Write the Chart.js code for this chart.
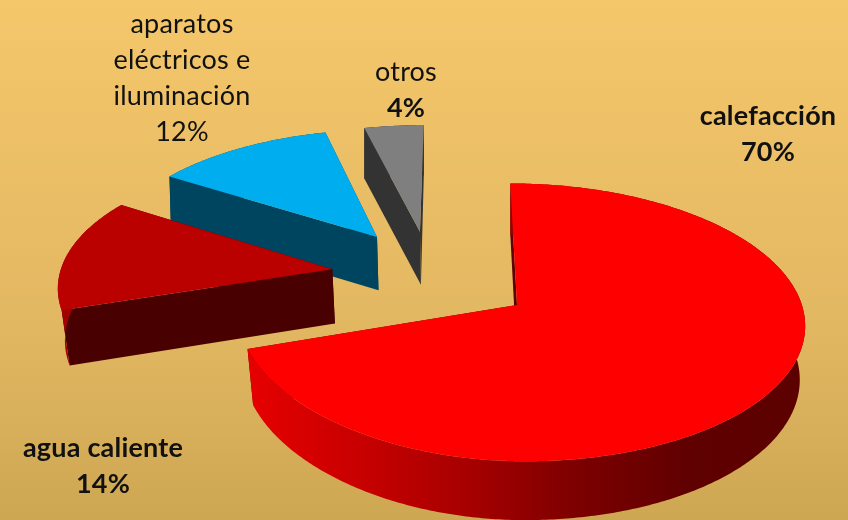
<!DOCTYPE html>
<html lang="es">
<head>
    <meta charset="UTF-8">
    <title>Consumo de energía en el hogar</title>
    <style>
        html, body { margin: 0; padding: 0; }
        body {
            width: 848px;
            height: 520px;
            overflow: hidden;
            background: linear-gradient(to bottom, #f5c76b 0%, #e3b862 60%, #cea753 100%);
        }
        canvas { display: block; }
    </style>
    <script src="https://cdn.jsdelivr.net/npm/chart.js"></script>
</head>
<body>
    <canvas id="pie" width="848" height="520"></canvas>

    <script>
        // Data
        const categories = ['calefacción', 'agua caliente', 'aparatos eléctricos e iluminación', 'otros'];
        const shares = [70, 14, 12, 4];

        // Slice colours: top face, cut face, rim
        const topColors = ['#ff0000', '#bb0000', '#00aeef', '#7f7f7f'];
        const cutColors = ['#600000', '#480000', '#004560', '#333333'];
        const rimColors = [null, '#a00000', '#004560', '#333333'];

        // Explosion of each slice on the ground plane, in radii
        const explode = [[0, 0], [-0.663, -0.27], [-0.51, -0.53], [-0.35, -0.575]];
        // Lower left of a slice is drawn a bit tighter
        const squeeze = [0.042, 0.028, 0, 0];

        // Label placement
        const labelLines = [['calefacción'], ['agua caliente'], ['aparatos', 'eléctricos e', 'iluminación'], ['otros']];
        const labelBox = [
            { x: 768, y: 125, bold: true, boldPct: true },
            { x: 103, y: 457, bold: true, boldPct: true },
            { x: 182, y: 33, bold: false, boldPct: false },
            { x: 406, y: 81, bold: false, boldPct: true }
        ];

        // Projection
        const spread = 1.325;     // screen px per radius, relative to the chart's own radius
        const flatten = 0.48;     // tilt of the ground plane
        const persp = 0.125;      // near side looks bigger
        const shear = 0.055;      // picture leans a little
        const depth = 55;         // height of the pie

        function project(el, X, Y, low) {
            const s = el.outerRadius * spread;
            const d = 1 - persp * Y;
            let x = X * s / d;
            let y = Y * flatten * s / d;
            x += shear * y;
            if (low) {
                y += depth / Math.sqrt(d);
                x *= 1 - Math.max(0, 0.017 + 0.012 * Y);
            }
            return [el.x + x, el.y + y];
        }

        function tracePoly(ctx, pts) {
            ctx.beginPath();
            pts.forEach((p, i) => i ? ctx.lineTo(p[0], p[1]) : ctx.moveTo(p[0], p[1]));
            ctx.closePath();
        }

        function drawSlice(ctx, el, i) {
            const [ox, oy] = explode[i];
            const steps = Math.ceil((el.endAngle - el.startAngle) * 90);
            const upper = [], lower = [];
            for (let n = 0; n <= steps; n++) {
                const a = el.startAngle + (el.endAngle - el.startAngle) * n / steps;
                let cx = Math.cos(a);
                const cy = Math.sin(a);
                if (cx < 0) cx *= 1 - squeeze[i] * Math.max(0, cy + 0.53);
                upper.push(project(el, ox + cx, oy + cy, false));
                lower.push(project(el, ox + cx, oy + cy, true));
            }
            const hub = project(el, ox, oy, false);
            const hubLow = project(el, ox, oy, true);

            // cut faces
            ctx.fillStyle = cutColors[i];
            tracePoly(ctx, [hub, upper[0], lower[0], hubLow]);
            ctx.fill();
            tracePoly(ctx, [hub, upper[steps], lower[steps], hubLow]);
            ctx.fill();

            // rim
            let rim = rimColors[i];
            if (!rim) {
                rim = ctx.createLinearGradient(250, 0, 800, 0);
                rim.addColorStop(0, '#e60000');
                rim.addColorStop(0.2, '#c80000');
                rim.addColorStop(0.4, '#a60000');
                rim.addColorStop(0.6, '#7c0000');
                rim.addColorStop(0.8, '#600000');
                rim.addColorStop(1, '#5c0000');
            }
            ctx.fillStyle = rim;
            tracePoly(ctx, upper.concat(lower.slice().reverse()));
            ctx.fill();

            // top
            ctx.fillStyle = topColors[i];
            tracePoly(ctx, [hub].concat(upper));
            ctx.fill();
        }

        function drawLabels(ctx) {
            ctx.fillStyle = '#111111';
            ctx.textAlign = 'center';
            ctx.textBaseline = 'alphabetic';
            ctx.letterSpacing = '0.2px';
            labelLines.forEach((lines, i) => {
                const box = labelBox[i];
                ctx.font = (box.bold ? 'bold ' : '') + '27px Lato';
                lines.forEach((line, n) => ctx.fillText(line, box.x, box.y + n * 36));
                ctx.font = (box.boldPct ? 'bold ' : '') + '27px Lato';
                ctx.fillText(shares[i] + '%', box.x, box.y + lines.length * 36);
            });
        }

        const pie3d = {
            id: 'pie3d',
            beforeDatasetDraw(chart, args) {
                const ctx = chart.ctx;
                const arcs = chart.getDatasetMeta(args.index).data;
                ctx.save();
                for (let i = arcs.length - 1; i >= 0; i--) {
                    drawSlice(ctx, arcs[i], i);
                }
                drawLabels(ctx);
                ctx.restore();
                return false;
            }
        };

        new Chart(document.getElementById('pie').getContext('2d'), {
            type: 'pie',
            data: {
                labels: categories,
                datasets: [{ data: shares, backgroundColor: topColors, borderWidth: 0 }]
            },
            options: {
                responsive: false,
                animation: false,
                layout: { padding: { left: 186, top: 90 } },
                plugins: { legend: { display: false }, tooltip: { enabled: false } }
            },
            plugins: [pie3d]
        });
    </script>
</body>
</html>
